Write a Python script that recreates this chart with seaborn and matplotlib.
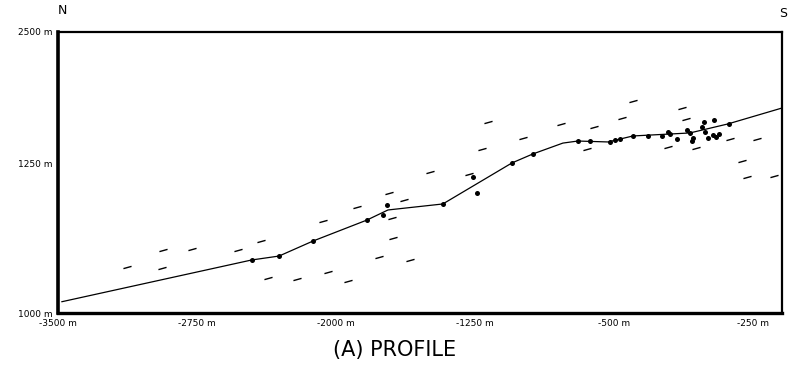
import numpy as np
import pandas as pd
import matplotlib
matplotlib.use("Agg")
import matplotlib.pyplot as plt
from matplotlib.path import Path
import seaborn as sns

# profile line vertices (distance m, elevation m)
line_x = [-3480, -2455, -2307, -2124, -1833, -1719, -1423, -1050, -937,
          -775, -694, -532, -397, -90, 115, 407]
line_y = [1060, 1283, 1304, 1384, 1496, 1550, 1582, 1801, 1849,
          1907, 1918, 1913, 1945, 1961, 2009, 2094]

# station dots
dot_x = [-2453, -2307, -2124, -1833, -1746, -1725, -1423, -1261, -1239,
         -1050, -937, -694, -629, -521, -494, -467, -397, -316, -241,
         -208, -197, -160, -106, -90, -79, -74, -25, -14, -9, 7, 40,
         34, 51, 67, 121]
dot_y = [1283, 1304, 1384, 1496, 1523, 1577, 1582, 1726, 1641,
         1801, 1849, 1918, 1918, 1913, 1923, 1929, 1945, 1945, 1945,
         1966, 1955, 1929, 1977, 1961, 1918, 1934, 1993, 2020, 1966, 1934, 2030,
         1950, 1939, 1955, 2009]

# short dash marks
dash_x = [-3128, -2933, -2939, -2777, -2529, -2405, -2367, -2210, -2043,
          -1935, -2070, -1887, -1714, -1633, -1698, -1692, -1768, -1601,
          -1493, -1282, -1212, -1180, -991, -786, -608, -646, -397, -457,
          -133, -111, -208, -57, 126, 272, 191, 218, 364]
dash_y = [1246, 1336, 1240, 1342, 1336, 1384, 1187, 1181, 1219,
          1171, 1491, 1566, 1641, 1603, 1507, 1400, 1299, 1283,
          1753, 1742, 1875, 2020, 1934, 2009, 1993, 1875, 2132, 2041,
          2094, 2036, 1886, 1880, 1929, 1929, 1811, 1726, 1731]

xtick_pos = [-3500, -2750, -2000, -1250, -500, 250]
xtick_lab = ["-3500 m", "-2750 m", "-2000 m", "-1250 m", "-500 m", "-250 m"]
ytick_pos = [1000, 1800, 2500]
ytick_lab = ["1000 m", "1250 m", "2500 m"]

sns.set_style("white")
plt.rcParams['font.family'] = ['DejaVu Sans']
plt.rcParams['text.color'] = 'black'
plt.rcParams['xtick.color'] = 'black'
plt.rcParams['ytick.color'] = 'black'

fig = plt.figure(figsize=(7.89, 3.66), dpi=100)
ax = fig.add_axes([0.0735, 0.1448, 0.9175, 0.7678])

df_line = pd.DataFrame({"x": line_x, "y": line_y})
df_dot = pd.DataFrame({"x": dot_x, "y": dot_y})
df_dash = pd.DataFrame({"x": dash_x, "y": dash_y})

sns.lineplot(data=df_line, x="x", y="y", sort=False, color="black",
             linewidth=0.9, ax=ax)
sns.scatterplot(data=df_dot, x="x", y="y", color="black", s=13,
                edgecolor="black", linewidth=0, ax=ax, zorder=3)
dash_marker = Path([(-1, -0.28), (1, 0.28)])
sns.scatterplot(data=df_dash, x="x", y="y", marker=dash_marker, s=34,
                color="black", edgecolor="black", linewidth=1.0, ax=ax)

ax.set_xlim(-3500, 407)
ax.set_ylim(1000, 2500)
ax.set_xticks(xtick_pos)
ax.set_xticklabels(xtick_lab, fontsize=6.5)
ax.set_yticks(ytick_pos)
ax.set_yticklabels(ytick_lab, fontsize=6.5)
ax.tick_params(axis="both", direction="inout", length=4, width=1, pad=2,
               color="black", labelcolor="black")
ax.set_xlabel("")
ax.set_ylabel("")
for sp in ax.spines.values():
    sp.set_visible(True)
    sp.set_color("black")
    sp.set_linewidth(1.6)
ax.spines["left"].set_linewidth(2.6)
ax.spines["bottom"].set_linewidth(2.4)

fig.text(0.0786, 0.972, "N", ha="center", va="center", fontsize=9)
fig.text(0.992, 0.962, "S", ha="center", va="center", fontsize=9)
fig.text(0.50, 0.045, "(A) PROFILE", ha="center", va="center", fontsize=15)

plt.savefig("out.png", dpi=100)
plt.close()
